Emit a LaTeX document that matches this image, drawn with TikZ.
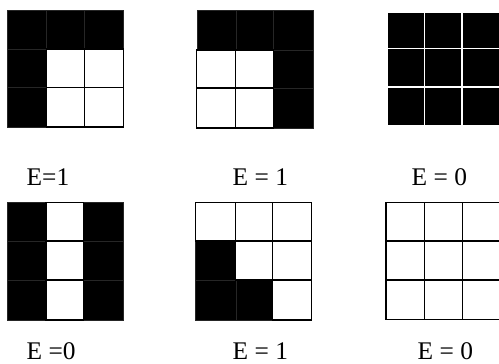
\documentclass[tikz,border=0pt]{standalone}
\usepackage{fontspec}
\setmainfont{Liberation Serif}
\newcommand\mygrid[3]{%
  \foreach \c/\r/\s in {#3}{%
    \pgfmathsetmacro\xa{{#1}[\c]}%
    \pgfmathsetmacro\xb{{#1}[\c+1]}%
    \pgfmathsetmacro\ya{{#2}[\r]}%
    \pgfmathsetmacro\yb{{#2}[\r+1]}%
    \path[style=\s] (\xa,\ya) rectangle (\xb,\yb);
  }}
\tikzset{
  wcell/.style={draw=black, line width=1.5bp, fill=white},
  bcell/.style={draw=black!85, line width=0.4bp, fill=black},
  gcell/.style={draw=white, line width=1.6bp, fill=black},
  lbl/.style={font=\fontsize{25.5}{30}\selectfont, inner sep=0pt, anchor=base west}
}
\begin{document}
\begin{tikzpicture}[x=1bp,y=-1bp]
\useasboundingbox[fill=white] (0,0) rectangle (499,363);
% grid 1
\mygrid{7,46.5,84.5,123.3}{10,49,87.5,127}{0/0/bcell,1/0/bcell,2/0/bcell,0/1/bcell,0/2/bcell,1/1/wcell,2/1/wcell,1/2/wcell,2/2/wcell}
% grid 2
\mygrid{196.7,235.7,273.3,313.3}{10,50,88,128}{0/0/bcell,1/0/bcell,2/0/bcell,2/1/bcell,2/2/bcell,0/1/wcell,1/1/wcell,0/2/wcell,1/2/wcell}
% grid 3
\mygrid{387.3,424.5,462,500}{11.7,48.5,87,125.7}{0/0/gcell,1/0/gcell,2/0/gcell,0/1/gcell,1/1/gcell,2/1/gcell,0/2/gcell,1/2/gcell,2/2/gcell}
% grid 4
\mygrid{7,46,83.5,123}{202.3,241,280,320}{0/0/bcell,0/1/bcell,0/2/bcell,2/0/bcell,2/1/bcell,2/2/bcell,1/0/wcell,1/1/wcell,1/2/wcell}
% grid 5
\mygrid{195.5,235.7,272.7,311.7}{202.3,241,280,320}{0/1/bcell,0/2/bcell,1/2/bcell,0/0/wcell,1/0/wcell,2/0/wcell,1/1/wcell,2/1/wcell,2/2/wcell}
% grid 6
\mygrid{386,424.3,462.3,500.5}{202.7,241,280,319.3}{0/0/wcell,1/0/wcell,2/0/wcell,0/1/wcell,1/1/wcell,2/1/wcell,0/2/wcell,1/2/wcell,2/2/wcell}
% labels
\node[lbl] (l1) at (26.5,185.5) {E=1};
\node[lbl] (l2) at (232.5,185.5) {E = 1};
\node[lbl] (l3) at (411.5,185.5) {E = 0};
\node[lbl] (l4) at (26.5,359) {E =0};
\node[lbl] (l5) at (232.5,359) {E = 1};
\node[lbl] (l6) at (417.5,359) {E = 0};
\end{tikzpicture}
\end{document}
